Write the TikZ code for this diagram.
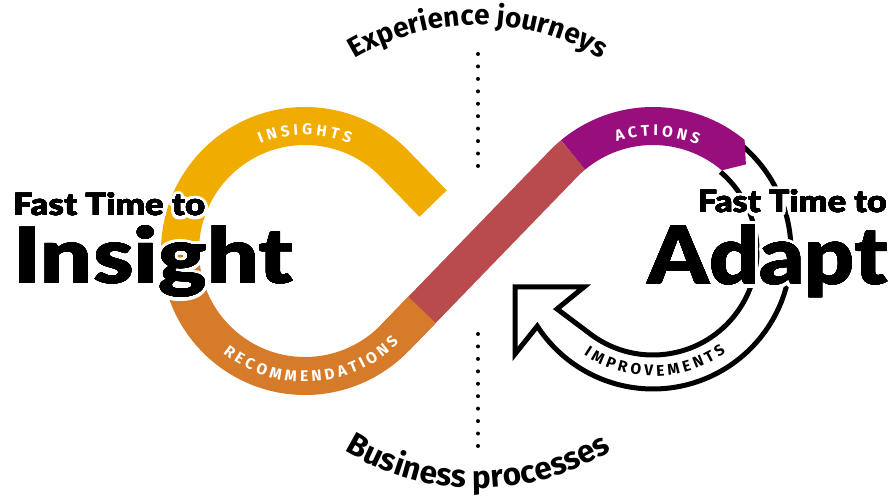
\documentclass[tikz,border=0pt]{standalone}
\usepackage{fontspec}
\usepackage{graphicx}
\usetikzlibrary{decorations.text,calc}
\setmainfont{Fira Sans}
\def\emb{0}
\IfFontExistsTF{FiraSans-Heavy.otf}{\newfontfamily\heavyfont{FiraSans-Heavy.otf}}{%
  \IfFontExistsTF{Lato-Black.ttf}{\newfontfamily\heavyfont{Lato-Black.ttf}}{%
    \newcommand\heavyfont{\bfseries}\def\emb{1.4}}}
\IfFontExistsTF{FiraSans-ExtraBold.otf}{\newfontfamily\titlefont{FiraSans-ExtraBold.otf}}{\newcommand\titlefont{\bfseries}}
\definecolor{cyel}{HTML}{F1AC00}
\definecolor{cora}{HTML}{D67B29}
\definecolor{cred}{HTML}{B94B4F}
\definecolor{cpur}{HTML}{970E7C}
\newcommand\halotext[4]{%
  \foreach \k in {0,24,...,336}{\node[inner sep=0pt,#3,text=white,shift={(\k:3.6pt)}] (#1h\k) at (#2) {#4};}
  \foreach \k in {0,45,...,315}{\node[inner sep=0pt,#3,shift={(\k:\emb pt)}] (#1b\k) at (#2) {#4};}
  \node[inner sep=0pt,#3] (#1) at (#2) {#4};}
\begin{document}
\begin{tikzpicture}[x=1pt,y=1pt,
  band/.style={line width=38pt},
  outl/.style={line width=5pt,line join=miter,draw=black},
  lbl/.style={decorate,decoration={text along path,text align=center,text color=#1}}]
\fill[white] (0,0) rectangle (894,501);
\useasboundingbox (0,0) rectangle (894,501);
\coordinate (L) at (305,250);
\coordinate (R) at (653,250);
\coordinate (T1) at ([shift={(-44.07:125pt)}]L);
\coordinate (T2) at ([shift={(135.93:125pt)}]R);
\coordinate (ab2) at (515,147);
\coordinate (atip) at (515,214);
\coordinate (ab1) at (584,214);
\coordinate (an1) at (557,192);
\coordinate (EJ) at (478,235);
\coordinate (BP) at (478,269);
% bands
\draw[band,cyel] ([shift={(180:125pt)}]L) arc[start angle=180,end angle=44.07,radius=125pt] -- ++(-45.93:55pt);
\draw[band,cred] (T1) -- (T2) arc[start angle=135.93,end angle=129.7,radius=125pt];
\draw[band,cora] ([shift={(180:125pt)}]L) arc[start angle=180,end angle=315.93,radius=125pt] -- ++(45.93:39pt);
% black outline arrow
\draw[outl] ([shift={(50.5:138pt)}]R) arc[start angle=50.5,end angle=-147,radius=138pt] -- (ab2) -- (atip) -- (ab1) -- (an1) -- ([shift={(-126:104pt)}]R) arc[start angle=-126,end angle=49.5,radius=104pt];
% purple
\fill[cpur] ([shift={(129.7:144pt)}]R) arc[start angle=129.7,end angle=50.5,radius=144pt] -- ([shift={(43:127pt)}]R) -- ([shift={(49.5:106pt)}]R) arc[start angle=49.5,end angle=129.7,radius=106pt] -- cycle;
% big texts
\halotext{ftl}{13,285}{anchor=base west}{\resizebox{192pt}{23pt}{\heavyfont Fast Time to}}
\halotext{ins}{13,217}{anchor=base west}{\resizebox{280pt}{58pt}{\heavyfont Insight}}
\halotext{ftr}{887,288}{anchor=base east}{\resizebox{189pt}{23pt}{\heavyfont Fast Time to}}
\halotext{ada}{888,216}{anchor=base east}{\resizebox{240pt}{60pt}{\heavyfont Adapt}}
% band labels
\path[lbl=white,decoration={text={|\titlefont\fontsize{15.5}{16}\selectfont|I N S I G H T S}}] ([shift={(150:116pt)}]L) arc[start angle=150,end angle=30,radius=116pt];
\path[lbl=white,decoration={text={|\titlefont\fontsize{15.5}{16}\selectfont|R E C O M M E N D A T I O N S}}] ([shift={(-146.5:131pt)}]L) arc[start angle=-146.5,end angle=-26.5,radius=131pt];
\path[lbl=white,decoration={text={|\titlefont\fontsize{15.5}{16}\selectfont|A C T I O N S}}] ([shift={(147.8:115pt)}]R) arc[start angle=147.8,end angle=27.8,radius=115pt];
\path[lbl=black,decoration={text={|\titlefont\fontsize{15.5}{16}\selectfont|I M P R O V E M E N T S}}] ([shift={(-149:125pt)}]R) arc[start angle=-149,end angle=-29,radius=125pt];
% curved titles
\path[lbl=black,decoration={text={|\titlefont\fontsize{28}{30}\selectfont|Experience journeys}}] ([shift={(150:241pt)}]EJ) arc[start angle=150,end angle=30,radius=241pt];
\path[lbl=black,decoration={text={|\titlefont\fontsize{31.5}{33}\selectfont|Business processes}}] ([shift={(215:256pt)}]BP) arc[start angle=215,end angle=325,radius=256pt];
% dots
\foreach \i in {0,...,9}{\fill (478,{447-12.44*\i}) circle (2pt); \fill (478,{167-12.44*\i}) circle (2pt);}
\end{tikzpicture}
\end{document}
